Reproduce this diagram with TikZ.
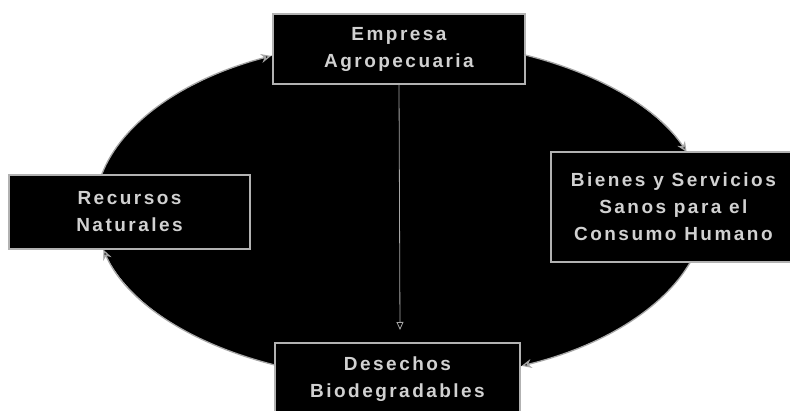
\documentclass[tikz,border=0pt]{standalone}
\usepackage{fontspec}
\newfontfamily\lbl[LetterSpace=13]{Liberation Sans}
\usetikzlibrary{arrows.meta,calc}
\begin{document}
\begin{tikzpicture}[x=1pt,y=1pt,
  box/.style={draw=black!30,line width=1.8pt,fill=black,text=black!18,
    font=\lbl\bfseries\fontsize{19}{27}\selectfont,align=center,inner sep=0pt},
  cyc/.style={draw=black!35,line width=1.3pt,-{Stealth[length=10pt,width=9pt,fill=black,color=black!35]}},
  vert/.style={draw=black!35,line width=0.8pt,-{Triangle[open,length=8pt,width=7pt]}}]
\useasboundingbox (0,0) rectangle (790,410);
\coordinate (c) at (400,200);
\fill[black] (c) ellipse[x radius=305,y radius=170];
\node[box,minimum width=252,minimum height=70] (emp) at (399,361) {Empresa\\Agropecuaria};
\node[box,minimum width=241,minimum height=74] (rec) at (129.5,198) {Recursos\\Naturales};
\node[box,minimum width=245,minimum height=110,anchor=west] (bie) at (550,203) {Bienes y Servicios\\Sanos para el\\Consumo Humano};
\node[box,minimum width=245,minimum height=72,anchor=north] (des) at (397.5,68) {Desechos\\Biodegradables};
\draw[cyc] ($(c)+(168:305 and 170)$) arc[start angle=168,end angle=115,x radius=305,y radius=170];
\draw[cyc] ($(c)+(66:305 and 170)$) arc[start angle=66,end angle=20,x radius=305,y radius=170];
\draw[cyc] ($(c)+(-18:305 and 170)$) arc[start angle=-18,end angle=-66.5,x radius=305,y radius=170];
\draw[cyc] ($(c)+(245.8:305 and 170)$) arc[start angle=245.8,end angle=193.5,x radius=305,y radius=170];
\draw[vert] (emp.south) -- ($(des.north)+(2.5,12)$);
\end{tikzpicture}
\end{document}
